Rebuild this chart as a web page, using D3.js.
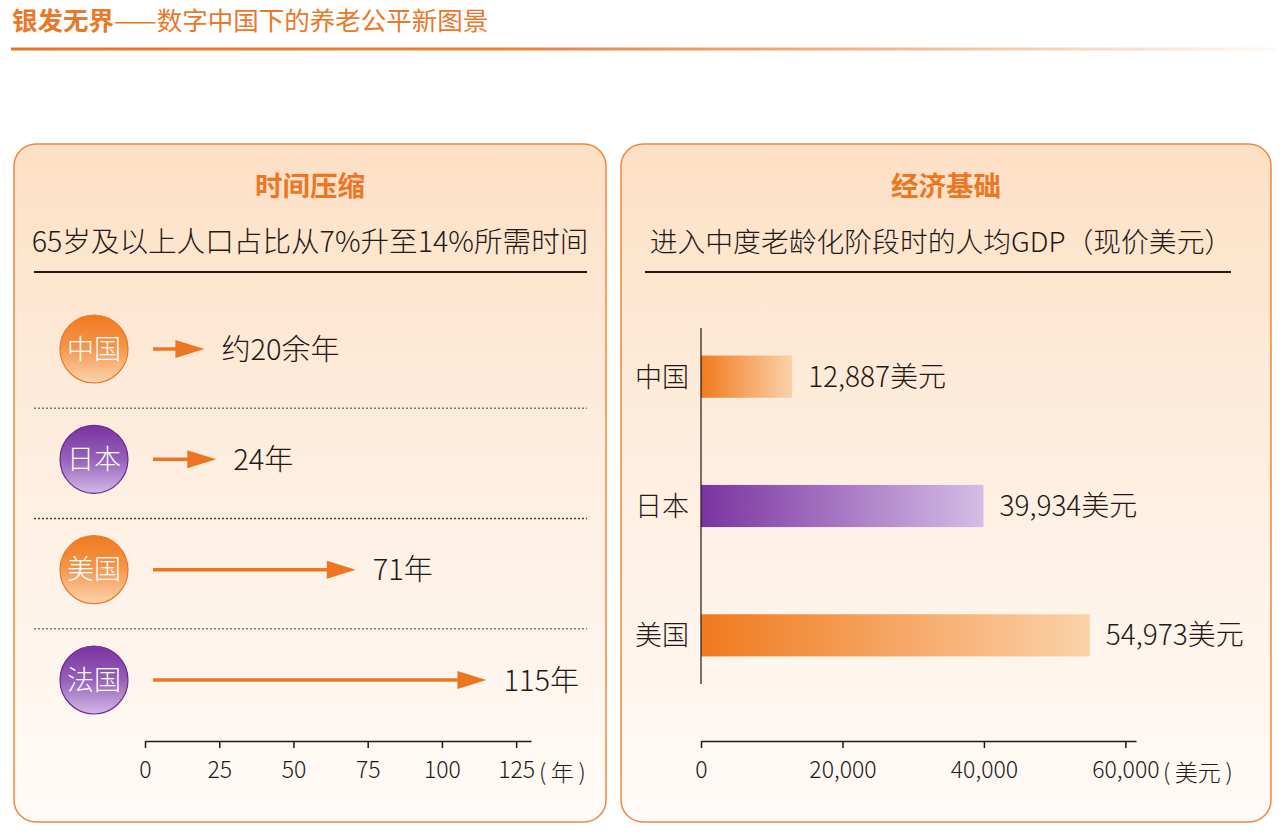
<!DOCTYPE html>
<html>
<head>
<meta charset="utf-8">
<script src="https://cdn.jsdelivr.net/npm/d3@7"></script>
<style>
  body { margin: 0; background: #fff; }
  svg { display: block; font-family: "Noto Sans CJK SC", "Noto Sans", sans-serif; }
  .axis text { font-family: "Noto Sans CJK SC", sans-serif; font-size: 23px; fill: #231815; font-weight: 300; }
  .axis path, .axis line { stroke: #231815; stroke-width: 1.5; }
</style>
</head>
<body>
<svg width="1287" height="839"></svg>
<script>
// data: time for 65+ share to go from 7% to 14%
var speedCountries = ["中国", "日本", "美国", "法国"],
    speedYears = [20, 24, 71, 115],
    speedLabels = ["约20余年", "24年", "71年", "115年"],
    speedTicks = [0, 25, 50, 75, 100, 125];

// data: GDP per capita at entering moderate ageing
var gdpCountries = ["中国", "日本", "美国"],
    gdpValues = [12887, 39934, 54973],
    gdpTicks = [0, 20000, 40000, 60000];

var orange = "#ee7623", ink = "#231815";

var svg = d3.select("svg");
var defs = svg.append("defs");

function grad(id, x2, y2, stops) {
    var g = defs.append("linearGradient").attr("id", id)
        .attr("x1", 0).attr("y1", 0).attr("x2", x2).attr("y2", y2);
    stops.forEach(function(s) {
        g.append("stop").attr("offset", s[0]).attr("stop-color", s[1]);
    });
}
grad("topline", 1, 0, [[0, "#e87424"], [0.4, "#ea8238"], [0.75, "#f4c39d"], [1, "#fff8f2"]]);
grad("panel", 0, 1, [[0, "#fde0c5"], [0.5, "#feefe1"], [1, "#fffbf8"]]);
grad("circOrange", 0, 1, [[0, "#f07a1e"], [0.45, "#f39448"], [1, "#fcd4ad"]]);
grad("circPurple", 0, 1, [[0, "#7a34a0"], [0.5, "#9660bb"], [1, "#d3b9e6"]]);
grad("barOrange", 1, 0, [[0, "#f07a1e"], [1, "#fbd2aa"]]);
grad("barPurple", 1, 0, [[0, "#7a34a0"], [1, "#d5bde6"]]);

// header
var head = svg.append("text").attr("x", 12).attr("y", 30)
    .attr("font-size", 25.5).attr("fill", "#e8782a");
head.append("tspan").attr("font-weight", 700).text("银发无界");
head.append("tspan").attr("font-weight", 400).text("——数字中国下的养老公平新图景");
svg.append("rect").attr("x", 11).attr("y", 47.5).attr("width", 1264).attr("height", 3)
    .attr("fill", "url(#topline)");

// panels
function panel(x, w, title, sub, subSize, subShift) {
    var g = svg.append("g");
    g.append("rect").attr("x", x).attr("y", 144).attr("width", w).attr("height", 678)
        .attr("rx", 22).attr("fill", "url(#panel)")
        .attr("stroke", "#f0883c").attr("stroke-width", 1.5);
    g.append("text").attr("x", x + w / 2).attr("y", 196).attr("text-anchor", "middle")
        .attr("font-size", 27.5).attr("font-weight", 700).attr("fill", "#ee7623").text(title);
    g.append("text").attr("x", x + w / 2 + subShift).attr("y", 252).attr("text-anchor", "middle")
        .attr("font-size", subSize).attr("font-weight", 300).attr("fill", ink).text(sub);
    return g;
}
panel(14, 592, "时间压缩", "65岁及以上人口占比从7%升至14%所需时间", 28.6, 0);
panel(621, 650, "经济基础", "进入中度老龄化阶段时的人均GDP（现价美元）", 27.8, -5);
svg.append("line").attr("x1", 34).attr("x2", 587).attr("y1", 272).attr("y2", 272)
    .attr("stroke", ink).attr("stroke-width", 2);
svg.append("line").attr("x1", 645).attr("x2", 1231).attr("y1", 272).attr("y2", 272)
    .attr("stroke", ink).attr("stroke-width", 2);

// ---------- left: arrows ----------
var x1 = d3.scaleLinear().domain([0, 130]).range([145, 531]);
var y1 = d3.scalePoint().domain(speedCountries).range([349, 680]);

var left = svg.append("g");
// dotted separators
left.selectAll(".sep")
    .data(speedCountries.slice(1)).enter()
    .append("line")
    .attr("x1", 34).attr("x2", 587)
    .attr("y1", function(d) { return y1(d) - y1.step() / 2 + 4; })
    .attr("y2", function(d) { return y1(d) - y1.step() / 2 + 4; })
    .attr("stroke", "#4a3b35").attr("stroke-width", function(d, i) { return i == 1 ? 1.6 : 1; })
    .attr("stroke-dasharray", "2,2");

var rows = left.selectAll(".row")
    .data(speedCountries).enter()
    .append("g")
    .attr("transform", function(d) { return "translate(0," + y1(d) + ")"; });

rows.append("circle").attr("cx", 94).attr("cy", 0).attr("r", 34)
    .attr("fill", function(d, i) { return i % 2 ? "url(#circPurple)" : "url(#circOrange)"; })
    .attr("stroke", function(d, i) { return i % 2 ? "#6a2a8c" : "#e8782a"; })
    .attr("stroke-width", 1.2);
rows.append("text").attr("x", 94).attr("y", 9.5).attr("text-anchor", "middle")
    .attr("font-size", 27).attr("font-weight", 300).attr("fill", "#fff")
    .text(function(d) { return d; });

rows.append("line")
    .attr("x1", 153)
    .attr("x2", function(d, i) { return x1(speedYears[i]) - 20; })
    .attr("y1", 0).attr("y2", 0)
    .attr("stroke", orange).attr("stroke-width", 3.5);
rows.append("path")
    .attr("d", function(d, i) {
        var t = x1(speedYears[i]);
        return "M" + t + ",0L" + (t - 29) + ",-9L" + (t - 29) + ",9Z";
    })
    .attr("fill", orange);
rows.append("text")
    .attr("x", function(d, i) { return x1(speedYears[i]) + 17; })
    .attr("y", 10.5)
    .attr("font-size", 29).attr("font-weight", 300).attr("fill", ink)
    .text(function(d, i) { return speedLabels[i]; });

var xAxis1 = d3.axisBottom(x1).tickValues(speedTicks).tickSize(7).tickSizeOuter(0).tickPadding(14);
var ax1 = svg.append("g").attr("class", "axis")
    .attr("transform", "translate(0,741)")
    .call(xAxis1);
ax1.append("text").attr("x", 539).attr("y", 40).attr("text-anchor", "start")
    .style("fill", ink).text("(\u2009年\u2009)");

// ---------- right: bars ----------
var x2 = d3.scaleLinear().domain([0, 61500]).range([701, 1136]);
var y2 = d3.scaleBand().domain(gdpCountries).range([312, 700])
    .paddingInner(0.674).paddingOuter(0.337);

var right = svg.append("g");
right.selectAll(".bar")
    .data(gdpCountries).enter()
    .append("rect")
    .attr("x", x2(0))
    .attr("y", function(d) { return y2(d); })
    .attr("width", function(d, i) { return x2(gdpValues[i]) - x2(0); })
    .attr("height", y2.bandwidth())
    .attr("fill", function(d, i) { return i == 1 ? "url(#barPurple)" : "url(#barOrange)"; });

right.selectAll(".val")
    .data(gdpCountries).enter()
    .append("text")
    .attr("x", function(d, i) { return x2(gdpValues[i]) + 16; })
    .attr("y", function(d) { return y2(d) + y2.bandwidth() / 2 + 10; })
    .attr("font-size", 28).attr("font-weight", 300).attr("fill", ink)
    .text(function(d, i) { return d3.format(",")(gdpValues[i]) + "美元"; });

right.selectAll(".cat")
    .data(gdpCountries).enter()
    .append("text")
    .attr("x", 689).attr("text-anchor", "end")
    .attr("y", function(d) { return y2(d) + y2.bandwidth() / 2 + 10; })
    .attr("font-size", 27).attr("font-weight", 300).attr("fill", ink)
    .text(function(d) { return d; });

right.append("line").attr("x1", 701).attr("x2", 701).attr("y1", 328).attr("y2", 684)
    .attr("stroke", ink).attr("stroke-width", 1.2);

var xAxis2 = d3.axisBottom(x2).tickValues(gdpTicks).tickSize(7).tickSizeOuter(0)
    .tickPadding(14).tickFormat(d3.format(","));
var ax2 = svg.append("g").attr("class", "axis")
    .attr("transform", "translate(0,741)")
    .call(xAxis2);
ax2.append("text").attr("x", 1163).attr("y", 40).attr("text-anchor", "start")
    .style("fill", ink).text("(\u2009美元\u2009)");
</script>
</body>
</html>
